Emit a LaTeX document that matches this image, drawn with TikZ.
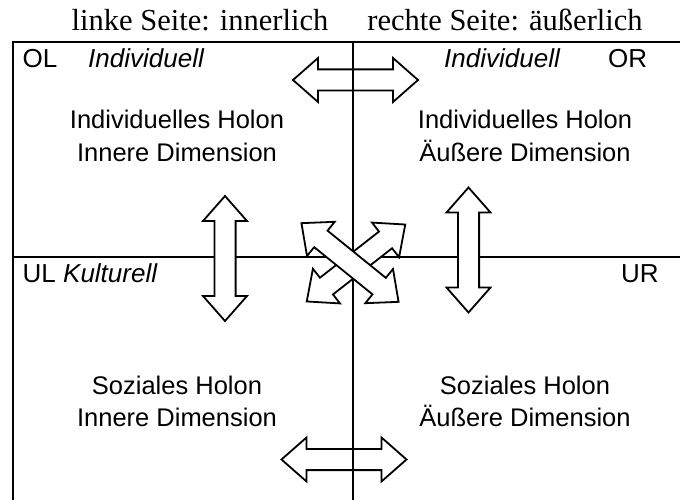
\documentclass[tikz,border=0pt]{standalone}
\usepackage{fontspec}
\setmainfont{Liberation Serif}
\setsansfont{Liberation Sans}
\tikzset{
  frameline/.style={line width=2.2pt, line cap=rect},
  arrowshape/.style={line width=1.8pt, line join=miter},
  pics/darrow/.style={code={
    \draw[arrowshape,#1] (-62.5,0) -- (-37.5,22) -- (-37.5,10.6) -- (37.5,10.6) -- (37.5,22)
      -- (62.5,0) -- (37.5,-22) -- (37.5,-10.6) -- (-37.5,-10.6) -- (-37.5,-22) -- cycle;
  }},
  titletext/.style={anchor=base, font=\fontsize{30.5}{34}\selectfont, inner sep=0pt},
  bodytext/.style={anchor=base, font=\sffamily\fontsize{25.5}{30}\selectfont, inner sep=0pt},
  cornertext/.style={anchor=base west, font=\sffamily\fontsize{26}{30}\selectfont, inner sep=0pt}
}
\begin{document}
\begin{tikzpicture}[x=1pt,y=-1pt]
\useasboundingbox (0,0) rectangle (680,500);
% titles
\node[titletext] (tl) at (200,31) {linke Seite: innerlich};
\node[titletext] (tr) at (505,31) {rechte Seite: äußerlich};
% frame
\coordinate (a1) at (13,42);
\coordinate (a2) at (690,42);
\coordinate (a3) at (13,510);
\coordinate (m1) at (13,257);
\coordinate (m2) at (690,257);
\coordinate (v1) at (352.7,42);
\coordinate (v2) at (352.7,510);
\draw[frameline] (a3) -- (a1) -- (a2);
\draw[frameline] (m1) -- (m2);
\draw[frameline] (v1) -- (v2);
% corner labels
\node[cornertext] (ol) at (22.5,68) {OL};
\node[cornertext] (oli) at (88,68) {\itshape Individuell};
\node[cornertext] (ori) at (444,68) {\itshape Individuell};
\node[cornertext] (or) at (608,68) {OR};
\node[cornertext] (ul) at (22.5,282) {UL \itshape Kulturell};
\node[cornertext] (ur) at (621,282) {UR};
% quadrant texts
\node[bodytext] (q1a) at (177,129) {Individuelles Holon};
\node[bodytext] (q1b) at (177,161) {Innere Dimension};
\node[bodytext] (q2a) at (525,129) {Individuelles Holon};
\node[bodytext] (q2b) at (525,161) {Äußere Dimension};
\node[bodytext] (q3a) at (177,394) {Soziales Holon};
\node[bodytext] (q3b) at (177,426) {Innere Dimension};
\node[bodytext] (q4a) at (525,394) {Soziales Holon};
\node[bodytext] (q4b) at (525,426) {Äußere Dimension};
% arrows
\pic at (355.5,80) {darrow={fill=none}};
\pic at (344,459.5) {darrow={fill=none}};
\pic[rotate=90] at (225,258.5) {darrow={fill=white}};
\pic[rotate=90] at (468.5,250) {darrow={fill=white}};
\pic[rotate=38] at (356,263) {darrow={fill=white}};
\pic[rotate=-39] at (350,262.5) {darrow={fill=white}};
\end{tikzpicture}
\end{document}
